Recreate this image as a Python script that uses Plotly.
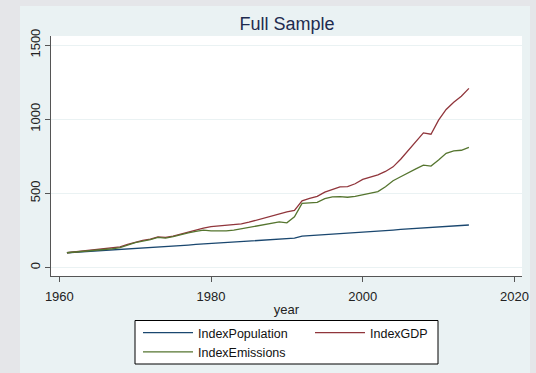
import plotly.graph_objects as go

years = list(range(1961, 2015))

index_population = [
    100, 103, 106, 109, 112, 116, 119, 122, 126, 129,
    132, 136, 139, 142, 146, 149, 152, 156, 159, 162,
    165, 168, 172, 175, 178, 181, 185, 188, 191, 194,
    198, 212, 215, 219, 222, 226, 229, 233, 236, 240,
    243, 246, 250, 253, 257, 260, 263, 267, 270, 273,
    277, 280, 284, 287,
]

index_gdp = [
    100, 106, 112, 118, 123, 128, 133, 140, 157, 172,
    183, 192, 207, 204, 212, 226, 240, 254, 266, 276,
    280, 281, 286, 294, 306, 320, 337, 350, 364, 376,
    385, 450, 466, 480, 508, 527, 544, 546, 565, 594,
    607, 625, 648, 679, 730, 790, 850, 908, 899, 994,
    1066, 1115, 1155, 1208,
]

index_emissions = [
    100, 104, 108, 112, 118, 122, 127, 135, 152, 168,
    178, 188, 204, 198, 208, 222, 234, 244, 252, 247,
    246, 248, 252, 262, 270, 278, 290, 298, 308, 302,
    342, 433, 438, 440, 465, 477, 478, 474, 480, 492,
    500, 512, 545, 585, 612, 640, 665, 690, 684, 725,
    770, 787, 791, 810,
]

x_ticks = [1960, 1980, 2000, 2020]
y_ticks = [0, 500, 1000, 1500]

# (name, values, colour, legend column)
series = [
    ("IndexPopulation", index_population, "#1a476f", "legend"),
    ("IndexGDP", index_gdp, "#90353b", "legend2"),
    ("IndexEmissions", index_emissions, "#55752f", "legend"),
]

fig = go.Figure()
for name, values, color, leg in series:
    fig.add_trace(go.Scatter(
        x=years, y=values, name=name, mode="lines",
        line=dict(color=color, width=1.3), legend=leg,
    ))

W, H = 536, 373
L, R, T, B = 51, 14, 36, 97
pw, ph = W - L - R, H - T - B


def px_x(p):
    return (p - L) / pw


def px_y(p):
    return (H - B - p) / ph


outer = "#e5e6e9"
shapes = [
    # grey frame around the light chart panel
    dict(type="rect", xref="paper", yref="paper", x0=px_x(0), x1=px_x(20),
         y0=px_y(H), y1=px_y(0), fillcolor=outer, line=dict(width=0), layer="below"),
    dict(type="rect", xref="paper", yref="paper", x0=px_x(0), x1=px_x(W),
         y0=px_y(6), y1=px_y(0), fillcolor=outer, line=dict(width=0), layer="below"),
    dict(type="rect", xref="paper", yref="paper", x0=px_x(530), x1=px_x(W),
         y0=px_y(H), y1=px_y(0), fillcolor=outer, line=dict(width=0), layer="below"),
    # single box framing both legend columns
    dict(type="rect", xref="paper", yref="paper", x0=px_x(135), x1=px_x(438),
         y0=px_y(364), y1=px_y(320.5), fillcolor="white",
         line=dict(color="#000000", width=1), layer="below"),
]

legend_style = dict(
    orientation="v",
    xanchor="left", yanchor="top",
    bgcolor="rgba(0,0,0,0)", borderwidth=0,
    itemwidth=50,
    font=dict(size=12.5, color="#111111"),
    tracegroupgap=0,
)

fig.update_layout(
    width=W, height=H,
    margin=dict(l=L, r=R, t=T, b=B, autoexpand=False),
    paper_bgcolor="#eaf2f3",
    plot_bgcolor="white",
    font=dict(family="Liberation Sans, Arial, sans-serif", size=13, color="#222222"),
    title=dict(text="Full Sample", x=px_x(287), xref="paper", xanchor="center",
               y=1 - 24 / H, yanchor="middle",
               font=dict(size=18, color="#1e2b4f")),
    shapes=shapes,
    showlegend=True,
    legend=dict(x=px_x(138), y=px_y(318), **legend_style),
    legend2=dict(x=px_x(310), y=px_y(318), **legend_style),
)

fig.update_xaxes(
    range=[1958.9, 2021.0],
    tickvals=x_ticks, ticktext=[str(v) for v in x_ticks],
    ticks="outside", ticklen=5, tickcolor="#555555",
    ticklabelstandoff=3,
    showline=True, linecolor="#555555", linewidth=1,
    showgrid=False, zeroline=False,
    title=dict(text="year", standoff=2, font=dict(size=13)),
)
fig.update_yaxes(
    range=[-56.7, 1561],
    tickvals=y_ticks, ticktext=[str(v) for v in y_ticks],
    tickangle=-90,
    ticks="outside", ticklen=5, tickcolor="#555555",
    showline=True, linecolor="#555555", linewidth=1,
    showgrid=True, gridcolor="#eaf2f3", gridwidth=1,
    zeroline=False,
)

fig.write_html("out.html")
